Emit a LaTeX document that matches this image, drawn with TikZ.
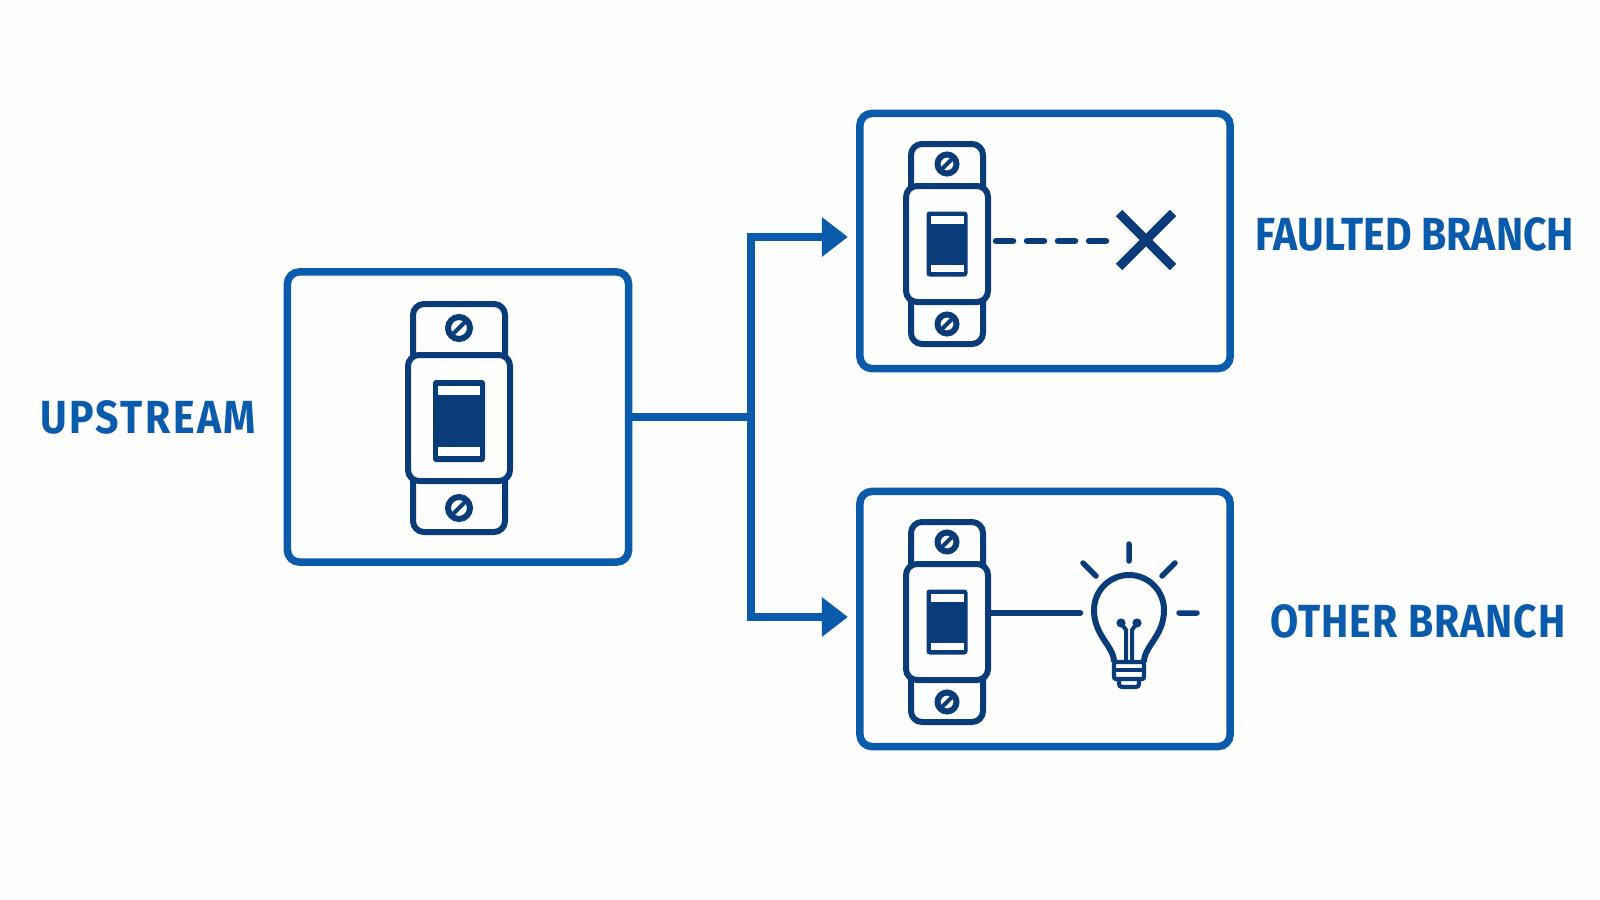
\documentclass[tikz,border=0pt]{standalone}
\usepackage{fontspec}
\newfontfamily\labelfont[FakeStretch=0.882]{Fira Sans}
\definecolor{BranchBlue}{HTML}{0B5BAD}
\definecolor{BreakerNavy}{HTML}{0A3C7A}
\definecolor{PageWhite}{HTML}{FEFEFE}
\usetikzlibrary{arrows.meta}
% tab w/h, body w/h, screw offset, screw radius
\newcommand{\breakerparts}[6]{
  \draw[part, rounded corners=.11cm] (-#1,-#2) rectangle (#1,#2);
  \draw[part, fill=PageWhite, rounded corners=.11cm] (-#3,-#4) rectangle (#3,#4);
  \foreach \sgn in {-1,1} {
    \draw[part] (0,\sgn*#5) circle[radius=#6];
    \draw[part, line width=.04cm] (-.6*#6,\sgn*#5+.6*#6) -- (.6*#6,\sgn*#5-.6*#6);
  }
  \coordinate (-east) at (#3,0);
}
\tikzset{
  part/.style={draw=BreakerNavy, line width=.06cm},
  wire/.style={draw=BreakerNavy, line width=.065cm, line cap=round},
  crossbar/.style={draw=BreakerNavy, line width=.09cm},
  panel/.style={
    rectangle, draw=BranchBlue, line width=.075cm, rounded corners=.12cm,
    outer sep=0pt, inner sep=0pt
  },
  link/.style={draw=BranchBlue, line width=.072cm},
  tipped/.style={link, -{Triangle[length=.26cm, width=.38cm]}},
  lbl/.style={font=\labelfont\bfseries\fontsize{13.2pt}{15pt}\selectfont, text=BranchBlue, inner sep=0pt},
  rocker/.style={fill=BreakerNavy, rounded corners=.03cm},
  bigbreaker/.pic={
    \breakerparts{46}{114}{51}{63}{90}{11}
    \fill[rocker] (-26,-38) rectangle (26,44);
    \fill[PageWhite] (-21,-32) rectangle (21,-23);
    \fill[PageWhite] (-21,29) rectangle (21,38);
  },
  smallbreaker/.pic={
    \breakerparts{36}{100}{41}{58}{80}{9.5}
    \fill[rocker] (-20.5,-32.5) rectangle (20.5,32.5);
    \fill[PageWhite] (-16.5,-28) rectangle (16.5,-20.5);
    \fill[PageWhite] (-16.5,20.5) rectangle (16.5,28);
  },
  lamp/.pic={
    \draw[part, line join=round] (-15,52) .. controls (-15,36) and (-35,26) .. (-35,0)
      arc[start angle=180, end angle=360, radius=35]
      .. controls (35,26) and (15,36) .. (15,52);
    \fill[BreakerNavy] (-8,13) circle[radius=4.6] (8,13) circle[radius=4.6];
    \draw[part, line width=.04cm] (-3,50) -- (-3,20) -- (-8,13) (3,50) -- (3,20) -- (8,13);
    \draw[part, line width=.042cm, rounded corners=.02cm] (-15,52) -- (15,52) -- (15,69) -- (-15,69) -- cycle;
    \draw[part, line width=.042cm] (-15,60) -- (15,60);
    \draw[part, line width=.042cm, rounded corners=.03cm] (-10,69) -- (-10,77) -- (10,77) -- (10,69);
    \draw[wire, line width=.055cm] (0,-66) -- (0,-49) (-46,-47) -- (-33,-34) (46,-47) -- (33,-34) (50,3) -- (68,3);
  },
}
\begin{document}
\begin{tikzpicture}[x=.01cm, y=-.01cm]
\useasboundingbox[fill=PageWhite] (0,0) rectangle (1600,900);

% Boxes
\node[panel, minimum width=3.41cm, minimum height=2.90cm] at (458,417) (upbox) {};
\node[panel, minimum width=3.70cm, minimum height=2.55cm] at (1045,241) (faultbox) {};
\node[panel, minimum width=3.70cm, minimum height=2.55cm] at (1045,619) (otherbox) {};

% Breakers
\pic (upbrk) at (459,418) {bigbreaker};
\pic (faultbrk) at (947,244) {smallbreaker};
\pic (otherbrk) at (947,622) {smallbreaker};

% Feed
\coordinate (split) at (751,417);
\draw[link] (upbox) -- (split);
\draw[tipped] (split) |- ([shift={(-12,-4)}]faultbox.west);
\draw[tipped] (split) |- ([shift={(-12,-2)}]otherbox.west);

% Faulted branch
\coordinate (faultend) at (1106,241);
\draw[wire, dash pattern=on .17cm off .14cm, shorten <=.08cm] (faultbrk-east |- faultend) -- (faultend);
\coordinate (crossmid) at (1146,240);
\draw[crossbar] ([shift={(-27,-27)}]crossmid) -- ([shift={(27,27)}]crossmid);
\draw[crossbar] ([shift={(-27,27)}]crossmid) -- ([shift={(27,-27)}]crossmid);

% Other branch
\coordinate (lampwire) at (1080,613);
\draw[wire] (otherbrk-east |- lampwire) -- (lampwire);
\pic (bulb) at (1129,610) {lamp};

% Labels
\node[lbl] at (148,417) (uplbl) {\addfontfeature{LetterSpace=5.4}UPSTREAM};
\node[lbl] at (1415,234) (faultlbl) {FAULTED BRANCH};
\node[lbl] at (1418,621) (otherlbl) {\addfontfeature{LetterSpace=2.2}OTHER BRANCH};

\end{tikzpicture}
\end{document}
